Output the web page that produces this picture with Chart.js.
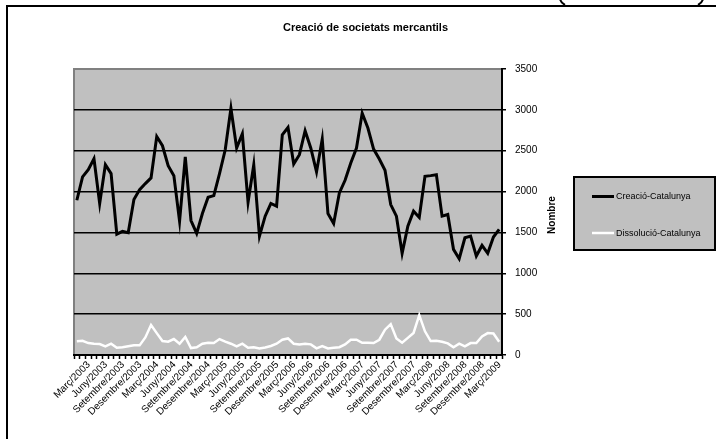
<!DOCTYPE html>
<html>
<head>
<meta charset="utf-8">
<script src="https://cdn.jsdelivr.net/npm/chart.js@4/dist/chart.umd.min.js"></script>
<style>
  html, body { margin: 0; padding: 0; background: #fff; }
  canvas { display: block; }
</style>
</head>
<body>
<canvas id="chart" width="716" height="439"></canvas>
<script>
// mesos (Març/2003 - Maig/2009)
const months = [
  "Març/2003", "Abril/2003", "Maig/2003", "Juny/2003", "Juliol/2003", "Agost/2003",
  "Setembre/2003", "Octubre/2003", "Novembre/2003", "Desembre/2003", "Gener/2004", "Febrer/2004",
  "Març/2004", "Abril/2004", "Maig/2004", "Juny/2004", "Juliol/2004", "Agost/2004",
  "Setembre/2004", "Octubre/2004", "Novembre/2004", "Desembre/2004", "Gener/2005", "Febrer/2005",
  "Març/2005", "Abril/2005", "Maig/2005", "Juny/2005", "Juliol/2005", "Agost/2005",
  "Setembre/2005", "Octubre/2005", "Novembre/2005", "Desembre/2005", "Gener/2006", "Febrer/2006",
  "Març/2006", "Abril/2006", "Maig/2006", "Juny/2006", "Juliol/2006", "Agost/2006",
  "Setembre/2006", "Octubre/2006", "Novembre/2006", "Desembre/2006", "Gener/2007", "Febrer/2007",
  "Març/2007", "Abril/2007", "Maig/2007", "Juny/2007", "Juliol/2007", "Agost/2007",
  "Setembre/2007", "Octubre/2007", "Novembre/2007", "Desembre/2007", "Gener/2008", "Febrer/2008",
  "Març/2008", "Abril/2008", "Maig/2008", "Juny/2008", "Juliol/2008", "Agost/2008",
  "Setembre/2008", "Octubre/2008", "Novembre/2008", "Desembre/2008", "Gener/2009", "Febrer/2009",
  "Març/2009", "Abril/2009", "Maig/2009"
];

const creacio = [
  1894, 2179, 2268, 2402, 1854, 2329, 2220, 1479, 1512, 1496,
  1902, 2024, 2098, 2167, 2674, 2561, 2317, 2195, 1638, 2423,
  1646, 1488, 1732, 1931, 1951, 2220, 2512, 3020, 2533, 2707,
  1870, 2329, 1455, 1699, 1854, 1821, 2695, 2784, 2338, 2451,
  2744, 2530, 2240, 2643, 1732, 1610, 1984, 2138, 2350, 2533,
  2960, 2777, 2520, 2398, 2260, 1841, 1699, 1244, 1577, 1760,
  1683, 2187, 2195, 2207, 1699, 1720, 1293, 1179, 1435, 1455,
  1211, 1341, 1244, 1443, 1537
];

const dissolucio = [
  167, 173, 146, 138, 134, 106, 138, 89, 95, 106,
  118, 118, 215, 366, 268, 171, 163, 195, 138, 220,
  85, 95, 138, 150, 146, 195, 163, 138, 106, 138,
  89, 95, 81, 93, 110, 138, 187, 203, 138, 130,
  138, 130, 81, 110, 81, 89, 95, 130, 187, 187,
  150, 150, 146, 187, 310, 378, 203, 150, 210, 270,
  488, 290, 171, 175, 163, 142, 95, 138, 106, 146,
  146, 227, 268, 264, 163
];

const yTicks = [0, 500, 1000, 1500, 2000, 2500, 3000, 3500];

const FONT = "Arial, 'Liberation Sans', sans-serif";

// fons gris de l'àrea del gràfic + marc exterior
const backdrop = {
  id: "backdrop",
  beforeDraw(chart) {
    const { ctx, chartArea: a } = chart;
    ctx.save();
    ctx.fillStyle = "#fff";
    ctx.fillRect(0, 0, chart.width, chart.height);
    ctx.fillStyle = "#c0c0c0";
    ctx.fillRect(a.left, a.top, a.right - a.left, a.bottom - a.top);
    ctx.strokeStyle = "#808080";
    ctx.lineWidth = 2;
    ctx.beginPath();
    ctx.moveTo(a.left, a.bottom);
    ctx.lineTo(a.left, a.top);
    ctx.lineTo(a.right, a.top);
    ctx.stroke();

    // marc
    ctx.strokeStyle = "#000";
    ctx.lineWidth = 2;
    ctx.beginPath();
    ctx.moveTo(7, chart.height + 5);
    ctx.lineTo(7, 6);
    ctx.lineTo(chart.width + 5, 6);
    ctx.stroke();
    // restes de parèntesis a dalt
    ctx.beginPath();
    ctx.moveTo(560, -1);
    ctx.quadraticCurveTo(561, 3, 565, 5);
    ctx.moveTo(703, -1);
    ctx.quadraticCurveTo(702, 3, 698, 5);
    ctx.stroke();
    ctx.restore();
  },
};

// títol, "Nombre" i llegenda
const annotations = {
  id: "annotations",
  afterDraw(chart) {
    const { ctx } = chart;
    ctx.save();
    ctx.fillStyle = "#000";
    ctx.textBaseline = "middle";

    ctx.font = "bold 11px " + FONT;
    ctx.textAlign = "center";
    ctx.fillText("Creació de societats mercantils", 365.5, 28);

    ctx.save();
    ctx.translate(552, 215);
    ctx.rotate(-Math.PI / 2);
    ctx.font = "bold 10px " + FONT;
    ctx.fillText("Nombre", 0, 0);
    ctx.restore();

    // llegenda
    ctx.fillStyle = "#c0c0c0";
    ctx.fillRect(574, 177, 141, 73);
    ctx.strokeStyle = "#000";
    ctx.lineWidth = 2;
    ctx.strokeRect(574, 177, 141, 73);

    const rows = [
      { ds: chart.data.datasets[0], y: 196.5 },
      { ds: chart.data.datasets[1], y: 233 },
    ];
    ctx.font = "9px " + FONT;
    ctx.textAlign = "left";
    rows.forEach((r) => {
      ctx.strokeStyle = r.ds.borderColor;
      ctx.lineWidth = r.ds.borderWidth;
      ctx.beginPath();
      ctx.moveTo(592, r.y);
      ctx.lineTo(614, r.y);
      ctx.stroke();
      ctx.fillStyle = "#000";
      ctx.fillText(r.ds.label, 616, r.y + 0.5);
    });
    ctx.restore();
  },
};

new Chart(document.getElementById("chart"), {
  type: "line",
  data: {
    labels: months,
    datasets: [
      {
        label: "Creació-Catalunya",
        data: creacio,
        borderColor: "#000",
        borderWidth: 3,
        pointRadius: 0,
        tension: 0,
        fill: false,
      },
      {
        label: "Dissolució-Catalunya",
        data: dissolucio,
        borderColor: "#fff",
        borderWidth: 2.5,
        pointRadius: 0,
        tension: 0,
        fill: false,
      },
    ],
  },
  options: {
    responsive: false,
    animation: false,
    devicePixelRatio: 1,
    layout: { padding: { left: 74, top: 69, right: 0, bottom: 0 } },
    plugins: {
      legend: { display: false },
      title: { display: false },
      tooltip: { enabled: false },
    },
    scales: {
      x: {
        offset: true,
        afterFit: (s) => { s.height = 84; },
        grid: {
          offset: true,
          drawOnChartArea: false,
          drawTicks: true,
          tickLength: 4,
          tickColor: "#000",
          tickWidth: 1.5,
        },
        border: { display: true, color: "#000", width: 2 },
        ticks: {
          autoSkip: false,
          minRotation: 45,
          maxRotation: 45,
          padding: 0,
          labelOffset: 12,
          color: "#000",
          font: { family: FONT, size: 10 },
          callback: (v, i) => (i % 3 === 0 ? months[i] : ""),
        },
      },
      y: {
        position: "right",
        min: 0,
        max: 3500,
        afterFit: (s) => { s.width = 214; },
        afterBuildTicks: (s) => { s.ticks = yTicks.map((v) => ({ value: v })); },
        grid: {
          color: (c) => (c.tick && c.tick.value === 3500 ? "rgba(0,0,0,0)" : "#000"),
          lineWidth: 1.5,
          drawTicks: true,
          tickLength: 4,
          tickColor: "#000",
          tickWidth: 1.5,
        },
        border: { display: true, color: "#000", width: 2 },
        ticks: {
          padding: 9,
          color: "#000",
          font: { family: FONT, size: 10 },
          callback: (v) => String(v),
        },
      },
    },
  },
  plugins: [backdrop, annotations],
});
</script>
</body>
</html>
